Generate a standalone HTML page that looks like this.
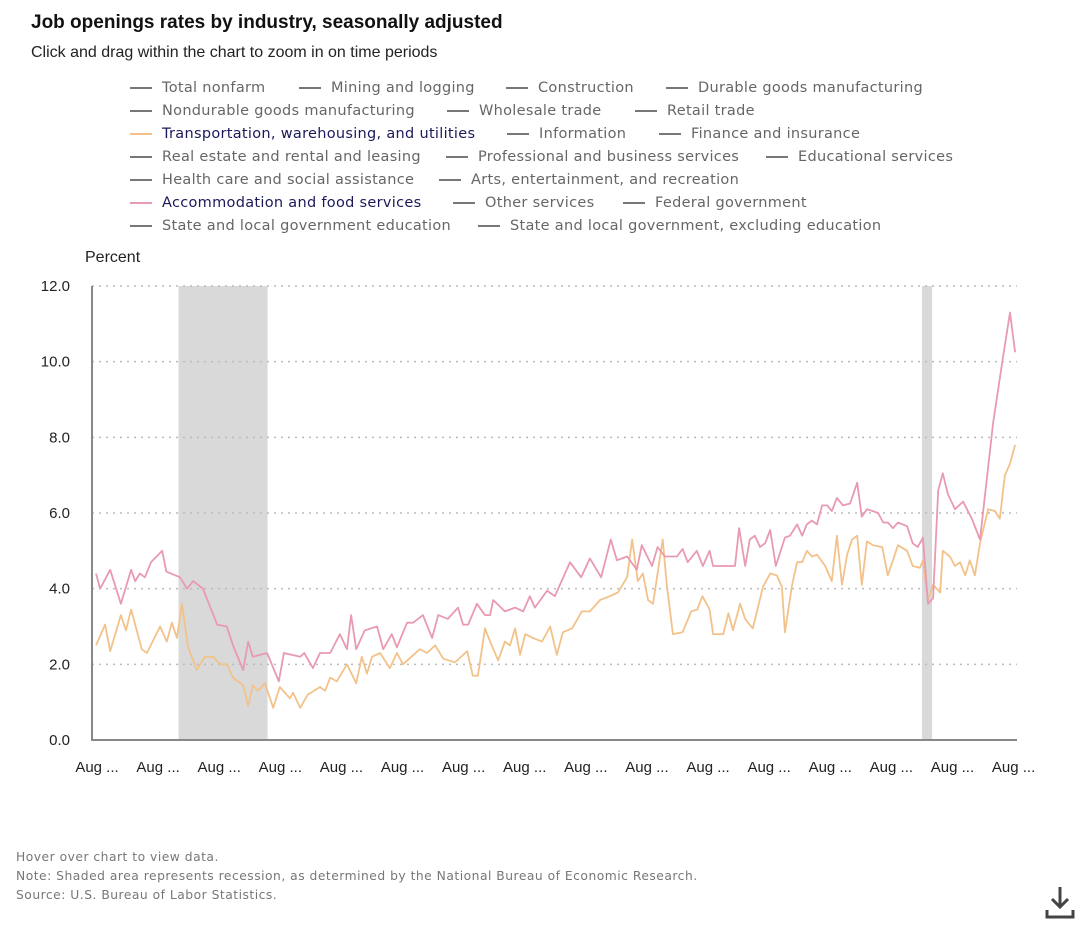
<!DOCTYPE html>
<html><head><meta charset="utf-8"><style>
body{margin:0;width:1080px;height:925px;background:#fff;font-family:"Liberation Sans",sans-serif;position:relative;overflow:hidden}
.t{position:absolute;white-space:nowrap}
#title{left:31px;top:12px;font-size:19px;font-weight:bold;color:#111}
#sub{left:31px;top:44px;font-size:16px;color:#222}
.lg{position:absolute;font-family:"DejaVu Sans",sans-serif;font-size:14.5px;letter-spacing:0.3px;color:#666;white-space:nowrap;height:20px;line-height:20px}
.lg .d{display:inline-block;width:22px;height:2px;background:#777;vertical-align:middle;margin-right:10px}
.lg.hl{color:#1a1a5a}
.ft{position:absolute;left:16px;font-family:"DejaVu Sans",sans-serif;font-size:12.3px;letter-spacing:0.5px;color:#777}
</style></head><body>
<div class="t" id="title">Job openings rates by industry, seasonally adjusted</div>
<div class="t" id="sub">Click and drag within the chart to zoom in on time periods</div>
<div id="legend"></div>
<svg id="chart" width="1080" height="925" style="position:absolute;left:0;top:0"></svg>
<div class="ft" style="top:850px">Hover over chart to view data.</div>
<div class="ft" style="top:869px">Note: Shaded area represents recession, as determined by the National Bureau of Economic Research.</div>
<div class="ft" style="top:888px">Source: U.S. Bureau of Labor Statistics.</div>
<svg width="32" height="36" style="position:absolute;left:1044px;top:884px"><path d="M16 3v20M8 15l8 8 8-8" stroke="#444" stroke-width="3" fill="none"/><path d="M3 26v7h26v-7" stroke="#444" stroke-width="3" fill="none"/></svg>
<script>
const legendNames=[["Total nonfarm","Mining and logging","Construction","Durable goods manufacturing"],["Nondurable goods manufacturing","Wholesale trade","Retail trade"],["Transportation, warehousing, and utilities","Information","Finance and insurance"],["Real estate and rental and leasing","Professional and business services","Educational services"],["Health care and social assistance","Arts, entertainment, and recreation"],["Accommodation and food services","Other services","Federal government"],["State and local government education","State and local government, excluding education"]];
const legendX=[[130,299,506,666],[130,447,635],[130,507,659],[130,446,766],[130,439],[130,453,623],[130,478]];
const yTicks=[0,2,4,6,8,10,12];
const xTickMonths=[0,12,24,36,48,60,72,84,96,108,120,132,144,156,168,180];
const recessions=[[16,33.5],[162,164]];
const accomMonths=[-0.2,0.6,2.6,4.7,6.7,7.5,8.4,9.4,10.6,12.8,13.6,16.3,17.7,18.9,20.8,23.6,25.5,26.7,28.7,29.7,30.6,33.4,35.7,36.7,39.9,40.7,42.4,43.8,45.8,47.7,49.1,49.9,50.9,52.6,55.0,56.2,57.9,58.9,60.9,62.1,64.0,65.8,67.0,68.9,70.9,71.9,72.9,74.6,76.2,77.2,77.8,80.1,82.1,83.7,85.0,86.0,88.4,89.9,92.9,95.1,96.8,99.0,100.9,102.1,104.1,106.0,107.0,109.0,110.1,111.5,113.9,115.0,116.0,117.8,119.0,120.3,121.0,125.3,126.1,127.3,128.2,129.2,130.2,131.2,132.2,133.3,135.1,136.1,137.5,138.5,139.4,140.4,141.4,142.4,143.4,144.3,145.3,146.5,147.9,149.3,150.2,151.2,152.4,153.4,154.4,155.3,156.3,157.3,159.1,160.2,161.2,162.2,163.2,164.2,165.2,166.1,167.1,168.5,170.1,171.8,173.4,176.0,177.9,179.3,180.3];
const accomValues=[4.4,4.0,4.5,3.6,4.5,4.2,4.4,4.3,4.7,5.0,4.45,4.3,4.0,4.2,4.0,3.05,3.0,2.5,1.85,2.6,2.2,2.3,1.55,2.3,2.2,2.3,1.9,2.3,2.3,2.8,2.4,3.3,2.4,2.9,3.0,2.4,2.8,2.45,3.1,3.1,3.3,2.7,3.3,3.2,3.5,3.05,3.05,3.6,3.3,3.3,3.7,3.4,3.5,3.4,3.8,3.5,3.95,3.8,4.7,4.3,4.8,4.3,5.3,4.75,4.85,4.5,5.15,4.6,5.1,4.85,4.85,5.05,4.7,5.0,4.6,5.0,4.6,4.6,5.6,4.6,5.3,5.4,5.1,5.2,5.55,4.6,5.35,5.4,5.7,5.4,5.7,5.8,5.7,6.2,6.2,6.05,6.4,6.2,6.25,6.8,5.9,6.1,6.05,6.0,5.75,5.75,5.6,5.75,5.65,5.2,5.1,5.35,3.6,3.75,6.6,7.05,6.5,6.1,6.3,5.85,5.3,8.4,10.1,11.3,10.25];
const transMonths=[-0.2,1.6,2.6,4.7,5.7,6.7,8.8,9.8,12.4,13.7,14.7,15.7,16.7,17.9,19.6,21.2,22.8,24.2,25.5,26.7,28.7,29.7,30.6,31.6,33.0,34.6,35.9,37.9,38.5,39.9,41.4,43.8,44.8,45.8,47.1,49.1,50.9,52.0,53.0,54.0,55.6,57.5,58.9,60.1,63.4,64.8,66.4,68.0,70.3,72.7,73.8,74.8,76.2,77.2,78.8,80.1,81.1,82.1,83.1,84.1,85.6,87.4,89.0,90.3,91.5,93.3,95.2,96.8,98.8,100.7,102.3,104.1,105.1,106.2,107.2,108.2,109.2,111.1,111.9,113.1,115.0,116.7,117.9,118.9,120.3,121.0,123.0,124.0,124.9,126.3,127.3,128.8,130.8,132.2,133.5,134.5,135.1,136.5,137.5,138.5,139.4,140.4,141.4,143.0,144.3,145.3,146.3,147.3,148.3,149.3,150.2,151.2,152.4,154.2,155.3,156.3,157.3,159.1,160.2,161.6,162.2,163.2,164.2,165.6,166.1,167.5,168.5,169.5,170.5,171.4,172.4,173.4,175.0,176.4,177.3,178.3,179.3,180.3];
const transValues=[2.5,3.05,2.35,3.3,2.9,3.45,2.4,2.3,3.0,2.6,3.1,2.7,3.6,2.45,1.85,2.2,2.2,2.0,2.0,1.65,1.45,0.9,1.45,1.3,1.5,0.85,1.4,1.1,1.25,0.85,1.2,1.4,1.3,1.65,1.55,2.0,1.5,2.2,1.75,2.2,2.3,1.9,2.3,2.0,2.4,2.3,2.5,2.15,2.05,2.35,1.7,1.7,2.95,2.6,2.1,2.6,2.5,2.95,2.25,2.8,2.7,2.6,3.0,2.25,2.85,2.95,3.4,3.4,3.7,3.8,3.9,4.3,5.3,4.2,4.4,3.7,3.6,5.3,4.1,2.8,2.85,3.4,3.45,3.8,3.45,2.8,2.8,3.35,2.9,3.6,3.2,2.95,4.05,4.4,4.35,4.05,2.85,4.1,4.7,4.7,5.0,4.85,4.9,4.6,4.2,5.4,4.1,4.9,5.3,5.4,4.1,5.25,5.15,5.1,4.35,4.75,5.15,5.0,4.6,4.55,4.75,3.7,4.1,3.9,5.0,4.85,4.6,4.7,4.35,4.75,4.35,5.2,6.1,6.05,5.85,7.0,7.3,7.8];

const NS="http://www.w3.org/2000/svg";
const svg=document.getElementById('chart');
const X0=92,X1=1017,Y0=740,Y1=286;
function xs(m){return 97+m*5.092;}
function ys(v){return Y0-(v/12)*(Y0-Y1);}
function mk(tag,attrs,parent){const e=document.createElementNS(NS,tag);for(const k in attrs)e.setAttribute(k,attrs[k]);(parent||svg).appendChild(e);return e;}

const lgEl=document.getElementById('legend');
legendNames.forEach((row,ri)=>{row.forEach((name,ci)=>{
  const d=document.createElement('div');
  d.className='lg';
  let color='#777';
  if(name==="Transportation, warehousing, and utilities"){d.className+=' hl';color='#f2c28a';}
  if(name==="Accommodation and food services"){d.className+=' hl';color='#e89ab0';}
  d.style.left=legendX[ri][ci]+'px';d.style.top=(78+ri*23)+'px';
  d.innerHTML='<span class="d" style="background:'+color+'"></span>'+name;
  
  
  lgEl.appendChild(d);
});});

recessions.forEach(r=>{
  const e=mk('rect',{x:xs(r[0]),y:Y1,width:xs(r[1])-xs(r[0]),height:Y0-Y1,fill:'#d9d9d9'});
  
  
});
yTicks.forEach(v=>{
  if(v>0){const g=mk('line',{x1:X0,x2:X1,y1:ys(v),y2:ys(v),stroke:'#bbb','stroke-width':1.5,'stroke-dasharray':'2,5'});
  
  }
  const t=mk('text',{x:70,y:ys(v)+5,'text-anchor':'end','font-size':15,fill:'#222','font-family':'Liberation Sans, sans-serif'});
  t.textContent=v.toFixed(1);
  
  
});
const yt=mk('text',{x:85,y:262,'font-size':16,fill:'#222','font-family':'Liberation Sans, sans-serif'});
yt.textContent='Percent';


const ax=mk('path',{d:`M${X0} ${Y1}V${Y0}H${X1}`,stroke:'#888','stroke-width':2,fill:'none'});


xTickMonths.forEach(m=>{
  const t=mk('text',{x:xs(m),y:772,'text-anchor':'middle','font-size':15,fill:'#222','font-family':'Liberation Sans, sans-serif'});
  t.textContent='Aug ...';
  
  
});
function line(ms,vs,color,name){
  const d=ms.map((m,i)=>(i?'L':'M')+xs(m).toFixed(1)+' '+ys(vs[i]).toFixed(1)).join('');
  const p=mk('path',{d:d,stroke:color,'stroke-width':1.8,fill:'none','stroke-linejoin':'round'});
  
  
}
line(transMonths,transValues,'#f2c28a','transportation-line');
line(accomMonths,accomValues,'#e89ab0','accommodation-line');
</script>
</body></html>
